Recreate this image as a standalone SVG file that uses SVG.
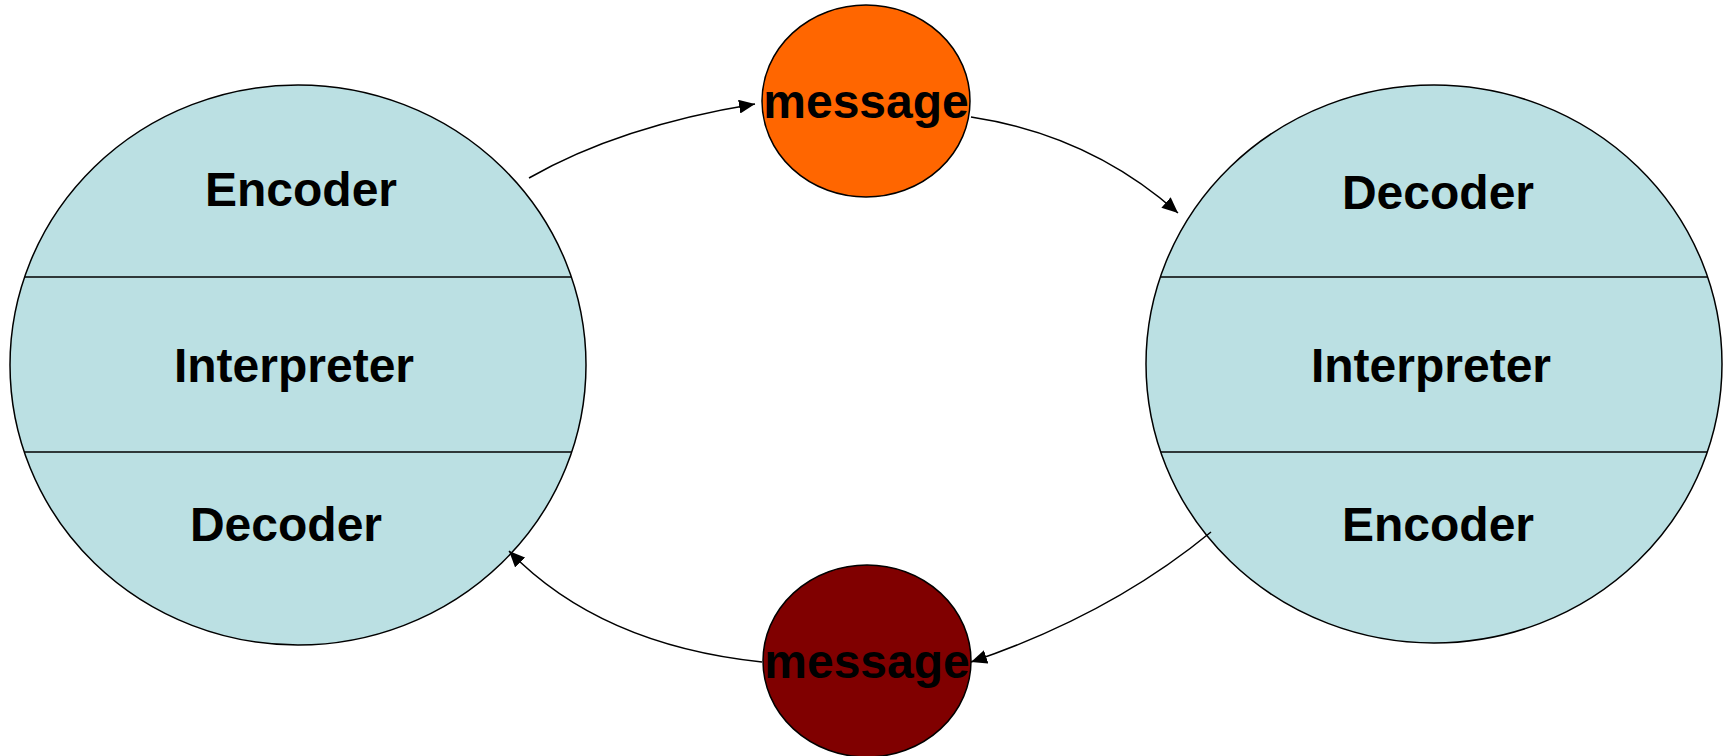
<svg xmlns="http://www.w3.org/2000/svg" width="1725" height="756" viewBox="0 0 1725 756">
  <style>
    .party { fill: #BBE0E3; stroke: #000; stroke-width: 1.5; }
    .divider { stroke: #000; stroke-width: 1.5; fill: none; }
    .lbl { font-family: "Liberation Sans", Arial, sans-serif; font-weight: bold; font-size: 48px; fill: #000; text-anchor: middle; }
    .msg { stroke: #000; stroke-width: 1.5; }
    .conn { fill: none; stroke: #000; stroke-width: 1.5; marker-end: url(#arrow); }
  </style>
  <defs>
    <marker id="arrow" markerUnits="userSpaceOnUse" markerWidth="18" markerHeight="14" refX="16" refY="7" orient="auto">
      <path d="M0,0 L16,7 L0,14 Z" fill="#000"/>
    </marker>
    <clipPath id="clipLeft"><ellipse cx="298" cy="365" rx="288" ry="280"/></clipPath>
    <clipPath id="clipRight"><ellipse cx="1434" cy="364" rx="288" ry="279"/></clipPath>
  </defs>

  <rect width="1725" height="756" fill="#fff"/>

  <!-- sender -->
  <g id="sender">
    <ellipse class="party" cx="298" cy="365" rx="288" ry="280"/>
    <g clip-path="url(#clipLeft)">
      <line class="divider" x1="0" y1="277" x2="600" y2="277"/>
      <line class="divider" x1="0" y1="452" x2="600" y2="452"/>
    </g>
    <text class="lbl" x="301" y="206">Encoder</text>
    <text class="lbl" x="294" y="382">Interpreter</text>
    <text class="lbl" x="286" y="541">Decoder</text>
  </g>

  <!-- receiver -->
  <g id="receiver">
    <ellipse class="party" cx="1434" cy="364" rx="288" ry="279"/>
    <g clip-path="url(#clipRight)">
      <line class="divider" x1="1140" y1="277" x2="1725" y2="277"/>
      <line class="divider" x1="1140" y1="452" x2="1725" y2="452"/>
    </g>
    <text class="lbl" x="1438" y="209">Decoder</text>
    <text class="lbl" x="1431" y="382">Interpreter</text>
    <text class="lbl" x="1438" y="541">Encoder</text>
  </g>

  <!-- outgoing message -->
  <g id="message-out">
    <ellipse class="msg" cx="866" cy="101" rx="104" ry="96" fill="#FF6600"/>
    <text class="lbl" x="866" y="118">message</text>
  </g>

  <!-- returning message -->
  <g id="message-back">
    <ellipse class="msg" cx="867" cy="661" rx="104" ry="96" fill="#800000"/>
    <text class="lbl" x="867" y="678">message</text>
  </g>

  <g id="connectors">
    <path class="conn" d="M529,178 Q620,126 755,104"/>
    <path class="conn" d="M971,117 Q1090,135 1178,213"/>
    <path class="conn" d="M1211,532 Q1110,615 971,662"/>
    <path class="conn" d="M762,662 Q600,645 509,551"/>
  </g>
</svg>
